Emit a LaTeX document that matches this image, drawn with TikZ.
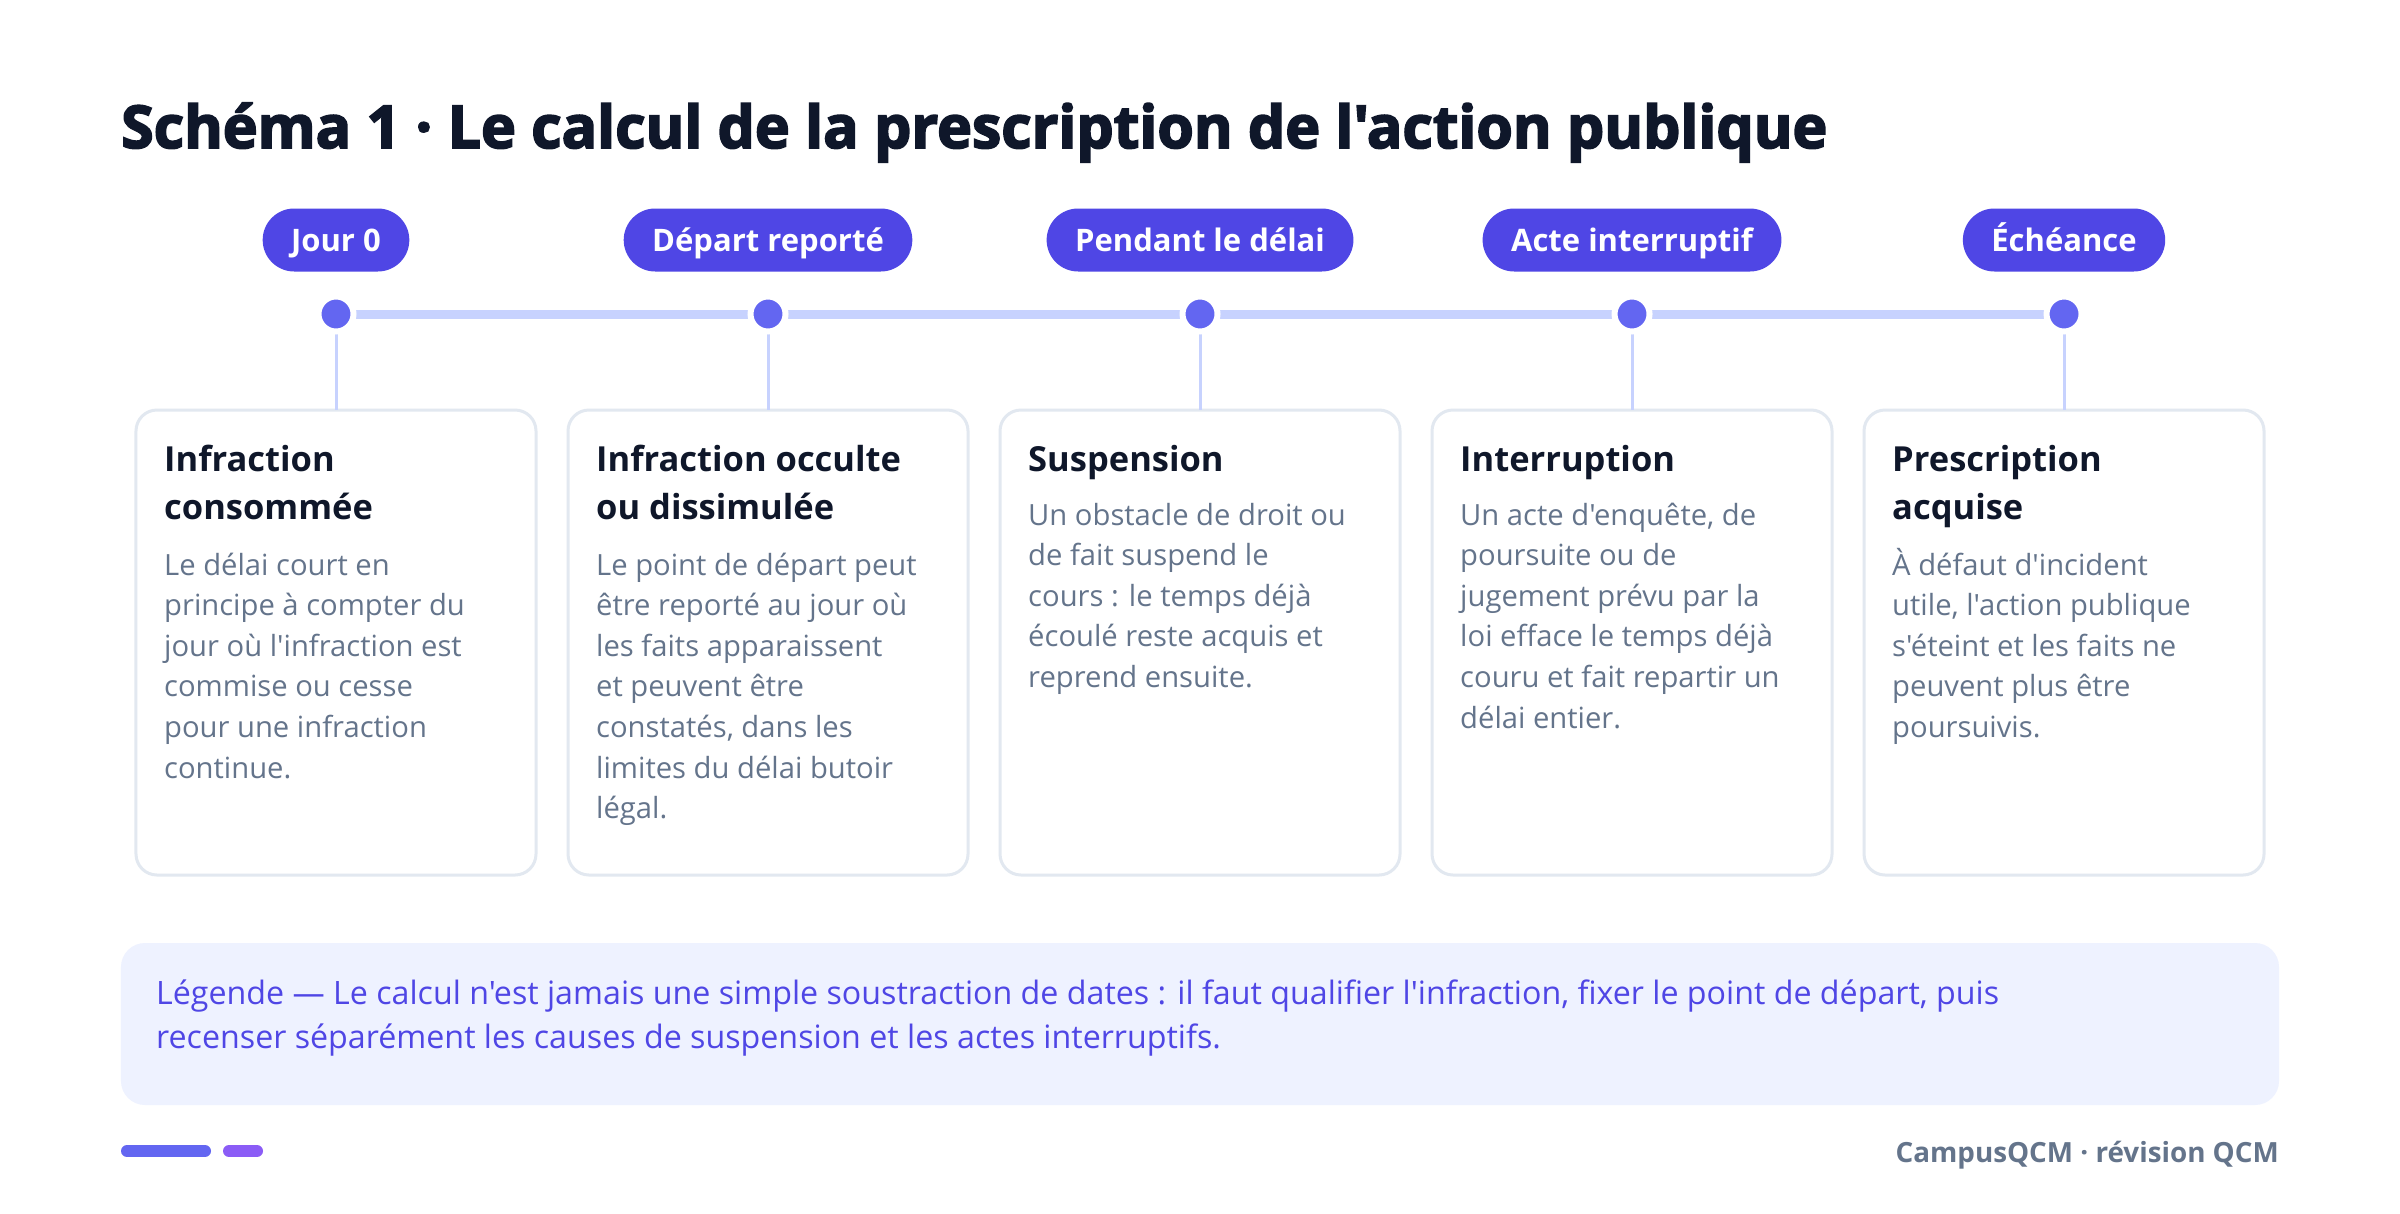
\documentclass[tikz,border=0pt]{standalone}
\usepackage{fontspec}
\newfontfamily\uifont{Open Sans}
\newfontfamily\heavyfont{Open Sans}[BoldFeatures={FakeBold=3}]
\usetikzlibrary{positioning,calc}

\definecolor{ink}{HTML}{0F172A}
\definecolor{slate}{HTML}{64748B}
\definecolor{indigo}{HTML}{4F46E5}
\definecolor{dotblue}{HTML}{6366F1}
\definecolor{track}{HTML}{C7D2FE}
\definecolor{cardline}{HTML}{E2E8F0}
\definecolor{legendbg}{HTML}{EEF2FF}
\definecolor{violet}{HTML}{8B5CF6}

\begin{document}
\begin{tikzpicture}[
      x=1bp, y=-1bp,
      font=\uifont,
      node distance=32bp,
      card/.style     ={rectangle, draw=cardline, line width=3bp, rounded corners=21bp,
                        fill=white, minimum width=400bp, minimum height=465bp,
                        outer sep=0pt},
      pill/.style     ={rectangle, fill=indigo, rounded corners=31.5bp, text=white,
                        font=\uifont\bfseries\fontsize{31bp}{37bp}\selectfont,
                        minimum height=63bp, inner xsep=28.5bp, inner ysep=0pt,
                        text height=22bp, text depth=0pt, outer sep=0pt},
      dot/.style      ={circle, fill=dotblue, draw=white, line width=6bp,
                        minimum size=35bp, inner sep=0pt, outer sep=0pt},
      cardtitle/.style={anchor=base west, align=left, inner sep=0pt, text=ink,
                        font=\uifont\bfseries\fontsize{34.5bp}{48.5bp}\selectfont},
      cardbody/.style ={anchor=base west, align=left, inner sep=0pt, text=slate,
                        font=\uifont\fontsize{29.2bp}{40.6bp}\selectfont},
      stem/.style     ={draw=track, line width=3bp},
      rail/.style     ={draw=track, line width=9bp}
    ]

    \fill[white] (0,0) rectangle (2400,1213);
    \useasboundingbox (0,0) rectangle (2400,1213);

    \node[anchor=base west, inner sep=0pt, text=ink,
          font=\heavyfont\bfseries\fontsize{59bp}{70bp}\selectfont] (title) at (121,148)
          {Schéma 1 · Le calcul de la prescription de l'action publique};

    % cards
    \node[card] (c1) at (336,642.5) {};
    \node[card, right=of c1] (c2) {};
    \node[card, right=of c2] (c3) {};
    \node[card, right=of c3] (c4) {};
    \node[card, right=of c4] (c5) {};

    % timeline
    \node[dot, above=78.5bp of c1] (d1) {};
    \node[dot, above=78.5bp of c2] (d2) {};
    \node[dot, above=78.5bp of c3] (d3) {};
    \node[dot, above=78.5bp of c4] (d4) {};
    \node[dot, above=78.5bp of c5] (d5) {};

    \draw[rail] (d1) -- (d2) -- (d3) -- (d4) -- (d5);
    \draw[stem] (d1) -- (c1);
    \draw[stem] (d2) -- (c2);
    \draw[stem] (d3) -- (c3);
    \draw[stem] (d4) -- (c4);
    \draw[stem] (d5) -- (c5);
    \node[dot] at (d1) {};
    \node[dot] at (d2) {};
    \node[dot] at (d3) {};
    \node[dot] at (d4) {};
    \node[dot] at (d5) {};

    \node[pill, above=25bp of d1] (p1) {Jour 0};
    \node[pill, above=25bp of d2] (p2) {Départ reporté};
    \node[pill, above=25bp of d3] (p3) {Pendant le délai};
    \node[pill, above=25bp of d4] (p4) {Acte interruptif};
    \node[pill, above=25bp of d5] (p5) {Échéance};

    % card texts, anchored on the baseline of their last line
    \node[cardtitle] (t1) at ($(c1.north west)+(28,61+48.5)$) {Infraction\\consommée};
    \node[cardbody]  (b1) at ($(c1.north west)+(28,165+5*40.6)$)
          {Le délai court en\\principe à compter du\\jour où l'infraction est\\commise ou cesse\\pour une infraction\\continue.};

    \node[cardtitle] (t2) at ($(c2.north west)+(28,61+48.5)$) {Infraction occulte\\ou dissimulée};
    \node[cardbody]  (b2) at ($(c2.north west)+(28,165+6*40.6)$)
          {Le point de départ peut\\être reporté au jour où\\les faits apparaissent\\et peuvent être\\constatés, dans les\\limites du délai butoir\\légal.};

    \node[cardtitle] (t3) at ($(c3.north west)+(28,61)$) {Suspension};
    \node[cardbody]  (b3) at ($(c3.north west)+(28,115+4*40.6)$)
          {Un obstacle de droit ou\\de fait suspend le\\cours : le temps déjà\\écoulé reste acquis et\\reprend ensuite.};

    \node[cardtitle] (t4) at ($(c4.north west)+(28,61)$) {Interruption};
    \node[cardbody]  (b4) at ($(c4.north west)+(28,115+5*40.6)$)
          {Un acte d'enquête, de\\poursuite ou de\\jugement prévu par la\\loi efface le temps déjà\\couru et fait repartir un\\délai entier.};

    \node[cardtitle] (t5) at ($(c5.north west)+(28,61+48.5)$) {Prescription\\acquise};
    \node[cardbody]  (b5) at ($(c5.north west)+(28,165+4*40.6)$)
          {À défaut d'incident\\utile, l'action publique\\s'éteint et les faits ne\\peuvent plus être\\poursuivis.};

    % legend
    \node[rectangle, fill=legendbg, rounded corners=24bp, minimum width=2158bp,
          minimum height=162bp, outer sep=0pt] (legend) at (1200,1024) {};
    \node[anchor=base west, align=left, inner sep=0pt, text=indigo,
          font=\uifont\fontsize{32.2bp}{44bp}\selectfont] (legendtext)
          at ($(legend.north west)+(35,61+44)$)
          {Légende — Le calcul n'est jamais une simple soustraction de dates : il faut qualifier l'infraction, fixer le point de départ, puis\\recenser séparément les causes de suspension et les actes interruptifs.};

    % footer
    \draw[dotblue, line width=12bp, line cap=round] (127,1151) -- (205,1151);
    \draw[violet, line width=12bp, line cap=round] (229,1151) -- (257,1151);
    \node[anchor=base east, inner sep=0pt, text=slate,
          font=\uifont\bfseries\fontsize{27.8bp}{32bp}\selectfont] (footer) at (2279,1162)
          {CampusQCM · révision QCM};
\end{tikzpicture}
\end{document}
